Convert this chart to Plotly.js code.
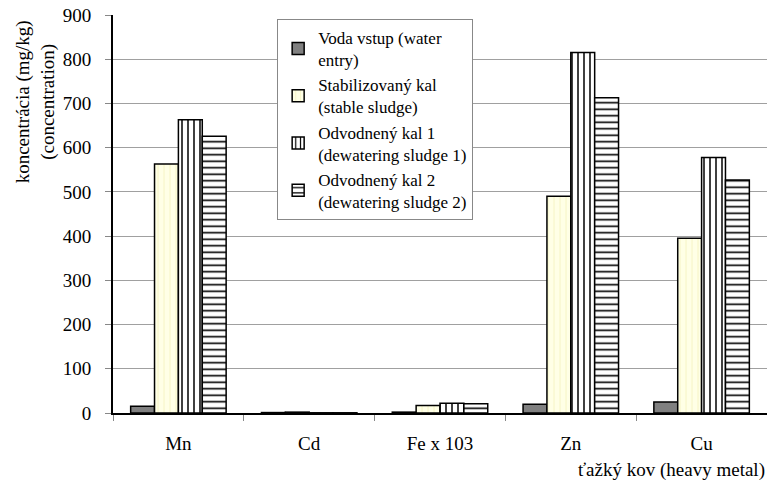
<!DOCTYPE html>
<html>
<head>
<meta charset="utf-8">
<script src="https://cdn.plot.ly/plotly-3.0.1.min.js"></script>
<style>html,body{margin:0;padding:0;background:#fff}#chart{width:767px;height:482px}</style>
</head>
<body>
<div id="chart"></div>
<script>
// Heavy metal concentrations (mg/kg) per sampling point
const metals = ['Mn', 'Cd', 'Fe x 103', 'Zn', 'Cu'];
const seriesNames = [
  'Voda vstup (water<br>entry)',
  'Stabilizovaný kal<br>(stable sludge)',
  'Odvodnený kal 1<br>(dewatering sludge 1)',
  'Odvodnený kal 2<br>(dewatering sludge 2)'
];
const waterEntry = [15, 1, 2, 20, 25];
const stableSludge = [563, 2, 17, 490, 395];
const dewatered1 = [663, 0.5, 22, 815, 578];
const dewatered2 = [626, 0.5, 21, 713, 527];
const yTicks = [0, 100, 200, 300, 400, 500, 600, 700, 800, 900];

const serif = "'Liberation Serif', 'Times New Roman', serif";
const outline = {color: '#000', width: 1.5};

const traces = [
  {y: waterEntry, marker: {color: '#808080', line: outline}},
  {y: stableSludge, marker: {color: '#FFFFE6', line: outline,
    pattern: {shape: '|', fgcolor: '#F3F0B8', bgcolor: '#FFFFE6', size: 6, solidity: 0.12}}},
  {y: dewatered1, marker: {color: '#ffffff', line: outline,
    pattern: {shape: '|', fgcolor: '#000', bgcolor: '#ffffff', size: 6, solidity: 0.25}}},
  {y: dewatered2, marker: {color: '#ffffff', line: outline,
    pattern: {shape: '-', fgcolor: '#000', bgcolor: '#ffffff', size: 6.5, solidity: 0.25}}}
].map((t, i) => Object.assign({type: 'bar', x: metals, name: seriesNames[i]}, t));

const layout = {
  width: 767, height: 482,
  margin: {l: 113, r: 0, t: 15, b: 69},
  paper_bgcolor: '#fff', plot_bgcolor: '#fff',
  font: {family: serif, size: 19, color: '#000'},
  barmode: 'group', bargap: 0.27, bargroupgap: 0,
  showlegend: true,
  legend: {
    x: 0.251, y: 0.99, xanchor: 'left', yanchor: 'top',
    bgcolor: '#fff', bordercolor: '#888', borderwidth: 1,
    font: {family: serif, size: 17, color: '#000'},
    tracegroupgap: 0, itemwidth: 30
  },
  xaxis: {
    type: 'category', tickson: 'boundaries', ticks: 'outside', ticklen: 6,
    tickcolor: '#888', showline: true, linecolor: '#000', linewidth: 2,
    showgrid: false, tickfont: {family: serif, size: 19}, ticklabelstandoff: 12,
    fixedrange: true
  },
  yaxis: {
    range: [0, 900], tickvals: yTicks, ticks: 'outside', ticklen: 6, tickcolor: '#888',
    showline: true, linecolor: '#000', linewidth: 2, zeroline: false,
    showgrid: true, gridcolor: '#a0a0a0', gridwidth: 1,
    tickfont: {family: serif, size: 19}, ticklabelstandoff: 10, fixedrange: true
  },
  annotations: [
    {
      xref: 'paper', yref: 'paper', x: 1, y: 0, xanchor: 'right', yanchor: 'top',
      yshift: -44, showarrow: false, text: 'ťažký kov (heavy metal)',
      font: {family: serif, size: 19, color: '#000'}
    },
    {
      xref: 'paper', yref: 'paper', x: -0.119, y: 0.781, xanchor: 'center', yanchor: 'middle',
      textangle: -90, showarrow: false, text: 'koncentrácia (mg/kg)<br>(concentration)',
      font: {family: serif, size: 19, color: '#000'}
    }
  ]
};

Plotly.newPlot('chart', traces, layout, {staticPlot: true});
</script>
</body>
</html>
